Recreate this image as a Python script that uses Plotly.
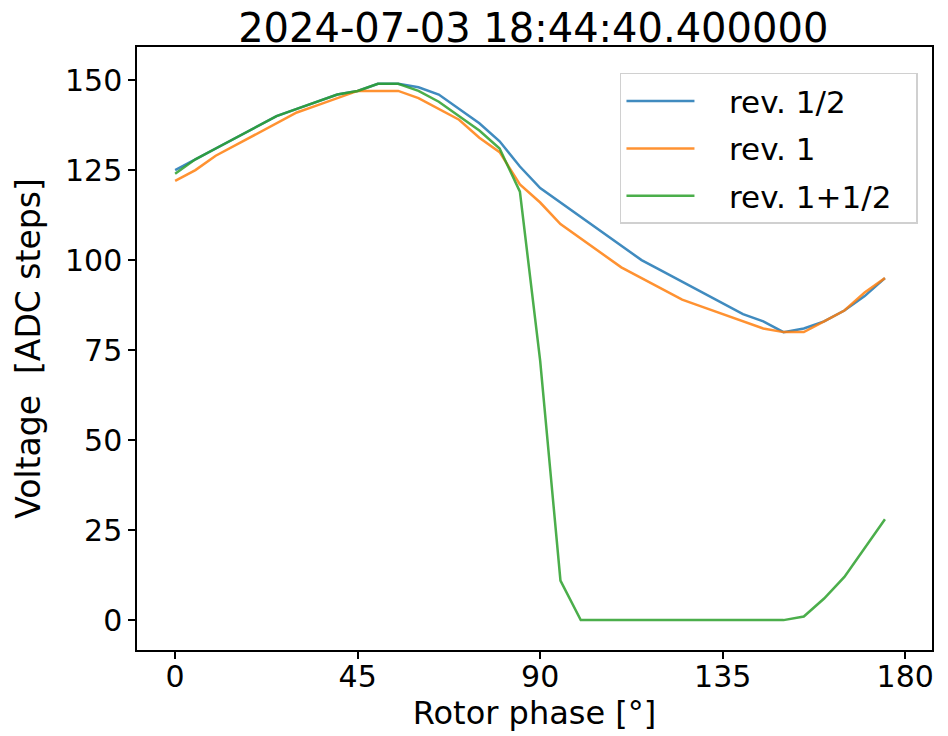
import plotly.graph_objects as go

phase = list(range(0, 180, 5))

rev_half = [125, 128, 131, 134, 137, 140, 142, 144, 146, 147, 149, 149,
            148, 146, 142, 138, 133, 126, 120, 116, 112, 108, 104, 100,
            97, 94, 91, 88, 85, 83, 80, 81, 83, 86, 90, 95]
rev_one = [122, 125, 129, 132, 135, 138, 141, 143, 145, 147, 147, 147,
           145, 142, 139, 134, 130, 121, 116, 110, 106, 102, 98, 95,
           92, 89, 87, 85, 83, 81, 80, 80, 83, 86, 91, 95]
rev_one_half = [124, 128, 131, 134, 137, 140, 142, 144, 146, 147, 149, 149,
                147, 144, 140, 136, 131, 119, 72, 11, 0, 0, 0, 0,
                0, 0, 0, 0, 0, 0, 0, 1, 6, 12, 20, 28]

names = ["rev. 1/2", "rev. 1", "rev. 1+1/2"]
colors = ["#1f77b4", "#ff7f0e", "#2ca02c"]

x_ticks = [0, 45, 90, 135, 180]
y_ticks = [0, 25, 50, 75, 100, 125, 150]

FONT = "DejaVu Sans"
PAD = "\u00a0\u00a0\u00a0"
TAIL = "\u00a0\u00a0"

fig = go.Figure()
for i, (name, vals, col) in enumerate(zip(names, [rev_half, rev_one, rev_one_half], colors)):
    fig.add_trace(go.Scatter(x=phase, y=vals, mode="lines", name=PAD + name + TAIL,
                             legendgroup="g%d" % i,
                             line=dict(color=col, width=2.5), opacity=0.85))

axis_common = dict(showgrid=False, zeroline=False, showline=True, linecolor="black",
                   linewidth=1.5, mirror=True, ticks="outside", ticklen=7,
                   tickwidth=1.5, tickcolor="black", automargin=False,
                   tickfont=dict(family=FONT, size=30, color="black"))

fig.update_layout(
    width=948, height=736,
    margin=dict(l=137, r=16, t=47, b=86),
    paper_bgcolor="white", plot_bgcolor="white",
    title=dict(text="2024-07-03 18:44:40.400000", x=0.5625, xanchor="center",
               y=0.962, yanchor="middle",
               font=dict(family=FONT, size=40, color="black")),
    xaxis=dict(range=[-9.4, 186.6], tickvals=x_ticks, ticklabelstandoff=-8,
               title=dict(text="Rotor phase [°]", standoff=4,
                          font=dict(family=FONT, size=32, color="black")),
               **axis_common),
    yaxis=dict(range=[-8.3, 159.2], tickvals=y_ticks,
               title=dict(text="Voltage\u00a0 [ADC steps]", standoff=14,
                          font=dict(family=FONT, size=33, color="black")),
               **axis_common),
    legend=dict(x=0.6075, y=0.957, xanchor="left", yanchor="top",
                bgcolor="white", bordercolor="#d0d0d0", borderwidth=1.5,
                font=dict(family=FONT, size=31, color="black"),
                itemwidth=68, tracegroupgap=4),
    showlegend=True,
)

fig.write_html("out.html")
